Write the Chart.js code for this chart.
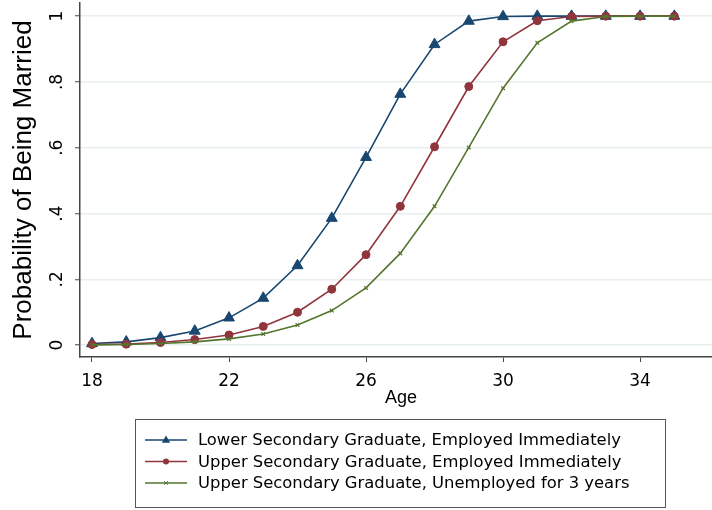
<!DOCTYPE html>
<html>
<head>
<meta charset="utf-8">
<script src="https://cdn.jsdelivr.net/npm/chart.js@4.4.1/dist/chart.umd.min.js"></script>
<style>
  html, body { margin: 0; padding: 0; background: #ffffff; }
  #wrap { width: 712px; height: 510px; }
</style>
</head>
<body>
<div id="wrap"><canvas id="c" width="712" height="510"></canvas></div>
<script>
// Predicted probability of being married by age, three profiles
const ages = [18, 19, 20, 21, 22, 23, 24, 25, 26, 27, 28, 29, 30, 31, 32, 33, 34, 35];
const lowerEmployed   = [0.005, 0.010, 0.023, 0.043, 0.083, 0.143, 0.242, 0.386, 0.571, 0.763, 0.914, 0.985, 0.999, 1, 1, 1, 1, 1];
const upperEmployed   = [0.002, 0.003, 0.008, 0.017, 0.031, 0.057, 0.100, 0.170, 0.275, 0.422, 0.603, 0.786, 0.922, 0.986, 0.999, 1, 1, 1];
const upperUnemployed = [0.001, 0.002, 0.005, 0.010, 0.019, 0.034, 0.061, 0.105, 0.174, 0.279, 0.422, 0.601, 0.781, 0.919, 0.985, 0.999, 1, 1];

const seriesLabels = [
  "Lower Secondary Graduate, Employed Immediately",
  "Upper Secondary Graduate, Employed Immediately",
  "Upper Secondary Graduate, Unemployed for 3 years"
];
const xTicks = [18, 22, 26, 30, 34];
const xTickLabels = ["18", "22", "26", "30", "34"];
const yTicks = [0, 0.2, 0.4, 0.6, 0.8, 1];
const yTickLabels = ["0", ".2", ".4", ".6", ".8", "1"];
const xTitle = "Age";
const yTitle = "Probability of Being Married";

const NAVY = "#1a476f", MAROON = "#90353b", FOREST = "#55752f";
const GRID = "#e6eef0", AXIS = "#444444";
const tickFont = "DejaVu Sans";
const titleFont = "Liberation Sans";

function pts(vals) { return ages.map((a, i) => ({ x: a, y: vals[i] })); }

// Axis labels, titles and the boxed legend
const decor = {
  id: "decor",
  afterDraw(chart) {
    const ctx = chart.ctx;
    const xs = chart.scales.x, ys = chart.scales.y;
    const area = chart.chartArea;
    ctx.save();
    ctx.fillStyle = "#000";
    ctx.font = "17px '" + tickFont + "'";
    ctx.textAlign = "center";
    ctx.textBaseline = "alphabetic";
    // x tick labels
    xTicks.forEach((v, i) => {
      ctx.fillText(xTickLabels[i], xs.getPixelForValue(v), area.bottom + 29);
    });
    // y tick labels, reading upward
    yTicks.forEach((v, i) => {
      const py = ys.getPixelForValue(v);
      ctx.save();
      ctx.translate(62, py);
      ctx.rotate(-Math.PI / 2);
      ctx.fillText(yTickLabels[i], 0, 0);
      ctx.restore();
    });
    // axis titles
    ctx.font = "18px '" + titleFont + "'";
    ctx.fillText(xTitle, (area.left + area.right) / 2 + 5, area.bottom + 46);
    ctx.font = "26px '" + titleFont + "'";
    ctx.save();
    ctx.translate(31, (area.top + area.bottom) / 2);
    ctx.rotate(-Math.PI / 2);
    ctx.fillText(yTitle, 0, 0);
    ctx.restore();

    // legend box
    const bx = 135.5, by = 419.5, bw = 530, bh = 88;
    ctx.strokeStyle = "#555";
    ctx.lineWidth = 1;
    ctx.strokeRect(bx, by, bw, bh);
    const rowY = [440, 461.5, 483];
    ctx.font = "16.4px '" + tickFont + "'";
    ctx.textAlign = "left";
    ctx.textBaseline = "middle";
    chart.data.datasets.forEach((ds, i) => {
      const y = rowY[i];
      ctx.strokeStyle = ds.borderColor;
      ctx.lineWidth = ds.borderWidth;
      ctx.beginPath();
      ctx.moveTo(145, y);
      ctx.lineTo(187, y);
      ctx.stroke();
      ctx.fillStyle = ds.pointBackgroundColor;
      ctx.strokeStyle = ds.pointBorderColor;
      const cx = 166;
      if (ds.pointStyle === "triangle") {
        const r = 4.4;
        ctx.beginPath();
        ctx.moveTo(cx, y - r);
        ctx.lineTo(cx + r * 0.95, y + r * 0.6);
        ctx.lineTo(cx - r * 0.95, y + r * 0.6);
        ctx.closePath();
        ctx.fill();
      } else if (ds.pointStyle === "circle") {
        ctx.beginPath();
        ctx.arc(cx, y, 3, 0, Math.PI * 2);
        ctx.fill();
      } else {
        ctx.lineWidth = 1;
        ctx.beginPath();
        ctx.moveTo(cx - 1.8, y - 1.8); ctx.lineTo(cx + 1.8, y + 1.8);
        ctx.moveTo(cx + 1.8, y - 1.8); ctx.lineTo(cx - 1.8, y + 1.8);
        ctx.stroke();
      }
      ctx.fillStyle = "#000";
      ctx.fillText(ds.label, 198, y + 1);
    });
    ctx.restore();
  }
};

new Chart(document.getElementById("c"), {
  type: "line",
  data: {
    datasets: [
      {
        label: seriesLabels[0], data: pts(lowerEmployed), order: 3,
        borderColor: NAVY, borderWidth: 1.6, pointStyle: "triangle",
        pointRadius: 6.3, pointBackgroundColor: NAVY, pointBorderColor: NAVY, pointBorderWidth: 1,
        tension: 0
      },
      {
        label: seriesLabels[1], data: pts(upperEmployed), order: 2,
        borderColor: MAROON, borderWidth: 1.6, pointStyle: "circle",
        pointRadius: 4, pointBackgroundColor: MAROON, pointBorderColor: MAROON, pointBorderWidth: 1,
        tension: 0
      },
      {
        label: seriesLabels[2], data: pts(upperUnemployed), order: 1,
        borderColor: FOREST, borderWidth: 1.6, pointStyle: "crossRot",
        pointRadius: 2.6, pointBackgroundColor: FOREST, pointBorderColor: FOREST, pointBorderWidth: 1.2,
        tension: 0
      }
    ]
  },
  options: {
    responsive: false,
    devicePixelRatio: 1,
    animation: false,
    layout: { autoPadding: false, padding: { left: 0, right: 0, top: 3, bottom: 103 } },
    plugins: { legend: { display: false }, tooltip: { enabled: false } },
    scales: {
      x: {
        type: "linear", min: 17.65, max: 36.1,
        afterBuildTicks(s) { s.ticks = xTicks.map(v => ({ value: v })); },
        afterFit(s) { s.height = 50; },
        grid: { drawOnChartArea: false, drawTicks: true, tickLength: 5, tickColor: AXIS, tickWidth: 1 },
        border: { display: true, color: AXIS, width: 1.5 },
        ticks: { display: false }
      },
      y: {
        type: "linear", min: -0.036, max: 1.04,
        afterBuildTicks(s) { s.ticks = yTicks.map(v => ({ value: v })); },
        afterFit(s) { s.width = 80; },
        grid: { drawOnChartArea: true, color: GRID, lineWidth: 1.5, drawTicks: true, tickLength: 5, tickColor: AXIS, tickWidth: 1 },
        border: { display: true, color: AXIS, width: 1.5 },
        ticks: { display: false }
      }
    }
  },
  plugins: [decor]
});
</script>
</body>
</html>
